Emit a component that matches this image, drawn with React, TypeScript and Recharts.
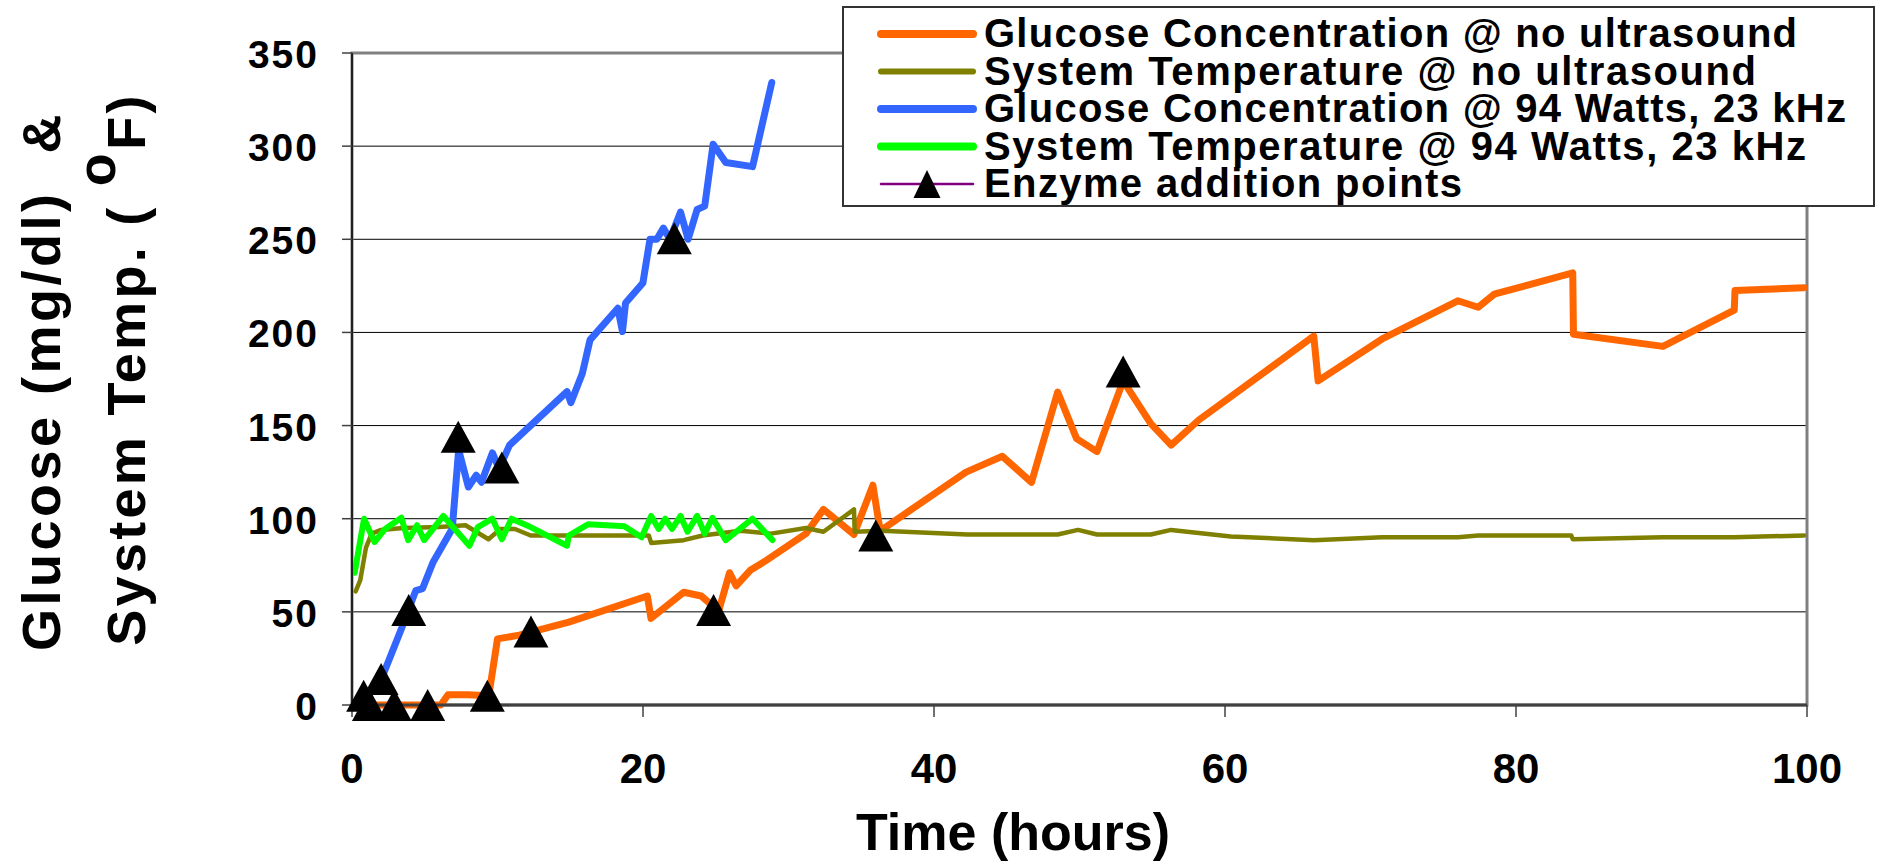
import React from "react";
import {
  ComposedChart,
  Line,
  Scatter,
  XAxis,
  YAxis,
  CartesianGrid,
  ReferenceArea,
} from "recharts";

const FONT = "'Liberation Sans', Arial, sans-serif";

// axis ticks
const timeTicks = [0, 20, 40, 60, 80, 100];
const valueTicks = [0, 50, 100, 150, 200, 250, 300, 350];

// [time (h), value]
const glucoseNoUltrasound: [number, number][] = [
  [0.5, 0], [2.0, 0], [4.0, 0], [6.1, 0], [6.6, 5.5], [8.0, 5.5], [9.4, 5],
  [10.0, 35.5], [11.5, 37.5], [14.9, 44.5], [20.3, 58.5], [20.55, 46.5],
  [22.8, 60.5], [24.0, 58.5], [25.2, 50.5], [25.95, 71], [26.4, 64],
  [27.4, 72.5], [28.45, 77.5], [31.2, 92], [32.4, 105], [34.5, 91.5],
  [35.8, 118], [36.3, 93.5], [42.2, 125], [44.7, 133.5], [46.7, 119.5],
  [48.5, 168], [49.8, 143], [51.2, 136], [53.0, 174], [54.9, 151],
  [56.3, 139.5], [58.2, 153], [66.1, 198], [66.4, 174], [70.8, 196.5],
  [76.0, 217], [77.4, 213.5], [78.5, 220.5], [83.9, 232], [83.95, 199],
  [90.1, 192.5], [95.0, 212], [95.05, 222.5], [99.8, 224],
];

const tempNoUltrasound: [number, number][] = [
  [0.25, 61], [0.57, 67], [0.96, 84.5], [1.35, 92], [2.0, 94], [3.5, 95],
  [6.0, 95.5], [7.8, 96.5], [9.38, 89], [10.2, 94.5], [11.2, 94.5],
  [12.28, 91], [14.7, 91], [20.4, 91], [20.56, 87], [22.8, 88.5], [24.1, 91],
  [26.7, 93.5], [28.8, 92], [31.2, 95], [32.4, 93], [34.5, 105], [34.55, 93],
  [36.4, 93.5], [42.3, 91.5], [48.5, 91.5], [49.9, 94], [51.2, 91.5],
  [54.9, 91.5], [56.3, 94], [60.4, 90.5], [66.1, 88.5], [70.8, 90], [76, 90],
  [77.4, 91], [83.8, 91], [83.9, 89], [90.1, 90], [95, 90], [99.8, 91],
];

const glucoseUltrasound: [number, number][] = [
  [0.8, 3], [2.15, 16.5], [3.39, 40.8], [4.38, 61.4], [4.85, 62.5],
  [5.57, 76.6], [6.89, 94.6], [7.33, 137], [8.0, 117], [8.54, 123.3],
  [8.9, 119.6], [9.65, 135.3], [10.1, 127], [10.83, 139.5], [14.78, 168.2],
  [15.04, 162.3], [15.83, 178], [16.36, 196], [18.27, 213], [18.59, 200.5],
  [18.8, 215.8], [19.99, 226.5], [20.48, 250], [20.95, 250], [21.4, 256],
  [21.85, 250], [22.58, 264.6], [23.1, 250], [23.72, 266], [24.24, 267.8],
  [24.82, 301], [25.69, 291.2], [27.53, 289], [28.85, 334.2],
];

const tempUltrasound: [number, number][] = [
  [0.18, 71], [0.83, 100], [1.55, 87.5], [2.28, 94.5], [3.39, 100.5],
  [3.86, 88.5], [4.47, 96.5], [4.96, 88.5], [6.28, 101.5], [8.07, 85.5],
  [8.65, 95.5], [9.65, 100], [10.3, 89], [10.96, 100], [12.28, 95.5],
  [14.78, 85.5], [14.9, 91], [16.22, 97], [18.72, 96], [19.9, 90],
  [20.56, 101.5], [21.08, 94.5], [21.53, 100], [22.0, 94.5], [22.58, 101.5],
  [23.06, 93], [23.72, 101.5], [24.24, 92], [24.77, 100.5], [25.69, 88.5],
  [27.53, 100], [28.9, 88.5],
];

const enzymeAdditions: [number, number][] = [
  [0.8, 5], [1.2, 0], [2.0, 14], [2.9, 0], [5.2, 0], [9.3, 5], [3.9, 51],
  [7.3, 144], [10.3, 127.5], [12.3, 39.5], [22.15, 250.5], [24.85, 51],
  [36.0, 91], [53.0, 179],
];

const toPoints = (rows: [number, number][]) => rows.map(([t, v]) => ({ t, v }));

const legendItems = [
  { name: "Glucose Concentration @ no ultrasound", color: "#FF6600", width: 8, len: 813 },
  { name: "System Temperature @ no ultrasound", color: "#808000", width: 6, len: 772 },
  { name: "Glucose Concentration @ 94 Watts, 23 kHz", color: "#3366FF", width: 8, len: 862 },
  { name: "System Temperature @ 94 Watts, 23 kHz", color: "#00FF00", width: 8, len: 822 },
  { name: "Enzyme addition points", color: "#800080", width: 2.5, len: 478 },
];

const Triangle = (props: any) => {
  const { cx, cy } = props;
  if (cx == null || cy == null) return null;
  return (
    <polygon
      points={`${cx},${cy - 16} ${cx - 17.5},${cy + 16} ${cx + 17.5},${cy + 16}`}
      fill="#000"
    />
  );
};

const YTick = ({ x, y, payload }: any) => (
  <text
    x={x - 23}
    y={y + 15}
    textAnchor="end"
    fontFamily={FONT}
    fontWeight="bold"
    fontSize={39}
    letterSpacing={2}
    fill="#000"
  >
    {payload.value}
  </text>
);

const XTick = ({ x, y, payload }: any) => (
  <text
    x={x}
    y={y + 66}
    textAnchor="middle"
    fontFamily={FONT}
    fontWeight="bold"
    fontSize={42}
    fill="#000"
  >
    {payload.value}
  </text>
);

const YTitle = () => (
  <g fontFamily={FONT} fontWeight="bold" fontSize={54} fill="#000">
    <text
      x={60}
      y={381}
      transform="rotate(-90 60 381)"
      textAnchor="middle"
      letterSpacing={3.5}
      style={{ whiteSpace: "pre" }}
    >
      {"Glucose (mg/dl)  &"}
    </text>
    <text
      x={145}
      y={369}
      transform="rotate(-90 145 369)"
      textAnchor="middle"
      letterSpacing={3.3}
      style={{ whiteSpace: "pre" }}
    >
      {"System Temp. ( "}
      <tspan dy={-30}>o</tspan>
      <tspan dy={30}>F)</tspan>
    </text>
  </g>
);

const XTitle = () => (
  <text
    x={1013}
    y={850}
    textAnchor="middle"
    fontFamily={FONT}
    fontWeight="bold"
    fontSize={52}
    fill="#000"
  >
    Time (hours)
  </text>
);

const LegendBox = () => (
  <svg
    width={1034}
    height={202}
    style={{ position: "absolute", left: 842, top: 6 }}
  >
    <rect x={1} y={1} width={1031} height={199} fill="#fff" stroke="#333" strokeWidth={2} />
    {legendItems.map((item, i) => {
      const cy = 28 + i * 37.5;
      return (
        <g key={item.name}>
          <line
            x1={39}
            x2={131}
            y1={cy}
            y2={cy}
            stroke={item.color}
            strokeWidth={item.width}
            strokeLinecap="round"
          />
          {i === 4 && (
            <polygon
              points={`85,${cy - 14} ${71.5},${cy + 14} ${98.5},${cy + 14}`}
              fill="#000"
            />
          )}
          <text
            x={142}
            y={cy + 13}
            fontFamily={FONT}
            fontWeight="bold"
            fontSize={40}
            textLength={item.len}
            lengthAdjust="spacing"
            fill="#000"
          >
            {item.name}
          </text>
        </g>
      );
    })}
  </svg>
);

export default function App() {
  return (
    <div
      style={{
        position: "absolute",
        left: 0,
        top: 0,
        width: 1879,
        height: 861,
        background: "#fff",
      }}
    >
      <ComposedChart
        width={1879}
        height={861}
        margin={{ top: 53, right: 72, bottom: 76, left: 252 }}
      >
        <CartesianGrid horizontal vertical={false} stroke="#000" strokeWidth={1} />
        <ReferenceArea
          x1={0}
          x2={100}
          y1={0}
          y2={350}
          fill="none"
          stroke="#808080"
          strokeWidth={3}
        />
        <XAxis
          type="number"
          dataKey="t"
          domain={[0, 100]}
          ticks={timeTicks}
          interval={0}
          height={80}
          tickSize={12}
          tickMargin={0}
          tick={<XTick />}
          axisLine={{ stroke: "#404040", strokeWidth: 3 }}
          tickLine={{ stroke: "#404040", strokeWidth: 1.5 }}
          label={<XTitle />}
        />
        <YAxis
          type="number"
          domain={[0, 350]}
          ticks={valueTicks}
          interval={0}
          width={100}
          tickSize={10}
          tickMargin={0}
          tick={<YTick />}
          axisLine={{ stroke: "#202020", strokeWidth: 2 }}
          tickLine={{ stroke: "#404040", strokeWidth: 1.5 }}
          label={<YTitle />}
        />
        <Line
          data={toPoints(glucoseNoUltrasound)}
          dataKey="v"
          type="linear"
          stroke="#FF6600"
          strokeWidth={7}
          strokeLinejoin="round"
          strokeLinecap="round"
          dot={false}
          isAnimationActive={false}
        />
        <Line
          data={toPoints(tempNoUltrasound)}
          dataKey="v"
          type="linear"
          stroke="#808000"
          strokeWidth={4.5}
          strokeLinejoin="round"
          strokeLinecap="round"
          dot={false}
          isAnimationActive={false}
        />
        <Line
          data={toPoints(glucoseUltrasound)}
          dataKey="v"
          type="linear"
          stroke="#3366FF"
          strokeWidth={7}
          strokeLinejoin="round"
          strokeLinecap="round"
          dot={false}
          isAnimationActive={false}
        />
        <Line
          data={toPoints(tempUltrasound)}
          dataKey="v"
          type="linear"
          stroke="#00FF00"
          strokeWidth={6}
          strokeLinejoin="round"
          strokeLinecap="round"
          dot={false}
          isAnimationActive={false}
        />
        <Scatter
          data={toPoints(enzymeAdditions)}
          dataKey="v"
          shape={<Triangle />}
          isAnimationActive={false}
        />
      </ComposedChart>
      <LegendBox />
    </div>
  );
}
